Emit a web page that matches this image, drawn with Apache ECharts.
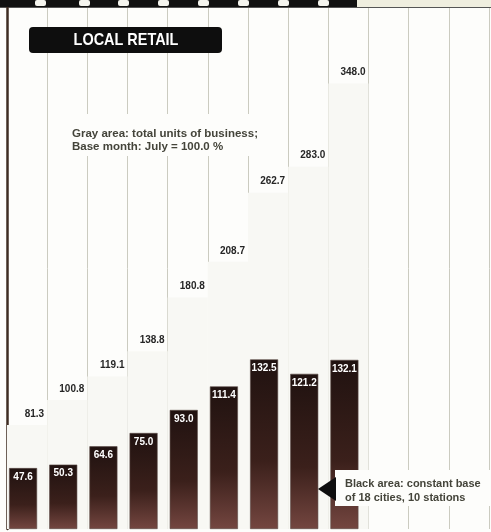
<!DOCTYPE html>
<html>
<head>
<meta charset="utf-8">
<script src="https://cdn.jsdelivr.net/npm/echarts@6/dist/echarts.min.js"></script>
<style>
  html, body { margin: 0; padding: 0; background: #fdfdfb; }
  #main { width: 491px; height: 532px; }
</style>
</head>
<body>
<div id="main"></div>
<script>
// months, July = base month
var months = ['Jul', 'Aug', 'Sep', 'Oct', 'Nov', 'Dec', 'Jan', 'Feb', 'Mar', 'Apr', 'May', 'Jun'];
// gray area: total units of business
var totalUnits = [81.3, 100.8, 119.1, 138.8, 180.8, 208.7, 262.7, 283.0, 348.0, null, null, null];
// black area: constant base of 18 cities, 10 stations
var constantBase = [47.6, 50.3, 64.6, 75.0, 93.0, 111.4, 132.5, 121.2, 132.1, null, null, null];

var narrow = '"Liberation Sans"';

var chart = echarts.init(document.getElementById('main'), null, { renderer: 'canvas' });

// top strip of the page (decoration only)
var strip = [
  { type: 'rect', shape: { x: 0, y: 0, width: 357, height: 7 }, style: { fill: '#111' } },
  { type: 'rect', shape: { x: 357, y: 0, width: 134, height: 7 }, style: { fill: '#efeedf' } },
  { type: 'line', shape: { x1: 0, y1: 7.5, x2: 491, y2: 7.5 }, style: { stroke: '#555', lineWidth: 1 } }
];
[35, 79, 118, 158, 198, 238, 278, 318].forEach(function (x) {
  strip.push({ type: 'rect', shape: { x: x, y: 0, width: 11, height: 6, r: 2 }, style: { fill: '#f4f4ee' } });
});

var option = {
  backgroundColor: '#fdfdfb',
  animation: false,
  grid: { left: 7, right: 2, top: 8, bottom: 3 },
  xAxis: [{
    type: 'category',
    data: months,
    axisLine: { show: false },
    axisTick: { show: false },
    axisLabel: { show: false },
    splitLine: { show: true, lineStyle: { color: '#cbcbc0', width: 1 } }
  }, {
    type: 'category',
    data: months,
    show: false
  }],
  yAxis: {
    type: 'value',
    min: 0,
    max: 407,
    axisLine: { show: true, lineStyle: { color: '#3e2c22', width: 2.5 } },
    axisTick: { show: false },
    axisLabel: { show: false },
    splitLine: { show: false }
  },
  series: [{
    name: 'Total units of business',
    type: 'bar',
    xAxisIndex: 1,
    barWidth: '100%',
    z: 1,
    itemStyle: { color: '#f8f8f4' },
    label: {
      show: true,
      position: ['100%', 0],
      align: 'right',
      verticalAlign: 'bottom',
      offset: [-3, -6],
      color: '#262626',
      fontFamily: narrow,
      fontWeight: 'bold',
      fontSize: 10,
      formatter: function (p) { return p.value.toFixed(1); }
    },
    data: totalUnits
  }, {
    name: 'Constant base',
    type: 'bar',
    xAxisIndex: 0,
    barWidth: 28,
    barGap: 0,
    z: 3,
    itemStyle: {
      color: new echarts.graphic.LinearGradient(0, 0, 0, 1, [
        { offset: 0, color: '#201210' },
        { offset: 0.6, color: '#3b201b' },
        { offset: 1, color: '#744640' }
      ]),
      borderColor: '#5a4a45',
      borderWidth: 0.6
    },
    label: {
      show: true,
      position: 'insideTop',
      distance: 4,
      color: '#fff',
      fontFamily: narrow,
      fontWeight: 'bold',
      fontSize: 10,
      formatter: function (p) { return p.value.toFixed(1); }
    },
    data: constantBase
  }, {
    // spacer so the black bars sit at the left of each column
    name: 'spacer',
    type: 'bar',
    xAxisIndex: 0,
    barWidth: 8,
    silent: true,
    itemStyle: { color: 'rgba(0,0,0,0)' },
    data: months.map(function () { return 0; })
  }],
  graphic: strip.concat([
    {
      type: 'rect', z: 100,
      shape: { x: 29, y: 27, width: 193, height: 26, r: 4 },
      style: { fill: '#0e0e0e' }
    },
    {
      type: 'text', z: 101,
      x: 126, y: 40, scaleX: 0.85,
      style: {
        text: 'LOCAL RETAIL', fill: '#fff', x: 0, y: 0,
        font: 'bold 17px ' + narrow, textAlign: 'center', textVerticalAlign: 'middle'
      }
    },
    {
      type: 'rect', z: 100,
      shape: { x: 68, y: 114, width: 196, height: 42 },
      style: { fill: '#fdfdfb' }
    },
    {
      type: 'text', z: 101,
      x: 72, y: 127,
      style: {
        text: 'Gray area: total units of business;\nBase month: July = 100.0 %',
        x: 0, y: 0, fill: '#44443a', lineHeight: 13,
        font: 'bold 11.5px ' + narrow
      }
    },
    {
      type: 'rect', z: 100,
      shape: { x: 335, y: 470, width: 156, height: 36 },
      style: { fill: '#fdfdfb' }
    },
    {
      type: 'polygon', z: 101,
      shape: { points: [[318, 489], [336, 477], [336, 501]] },
      style: { fill: '#0e0e0e' }
    },
    {
      type: 'text', z: 101,
      x: 345, y: 477,
      style: {
        text: 'Black area: constant base\nof 18 cities, 10 stations',
        x: 0, y: 0, fill: '#44443a', lineHeight: 14,
        font: 'bold 11px ' + narrow
      }
    }
  ])
};

chart.setOption(option);
</script>
</body>
</html>
